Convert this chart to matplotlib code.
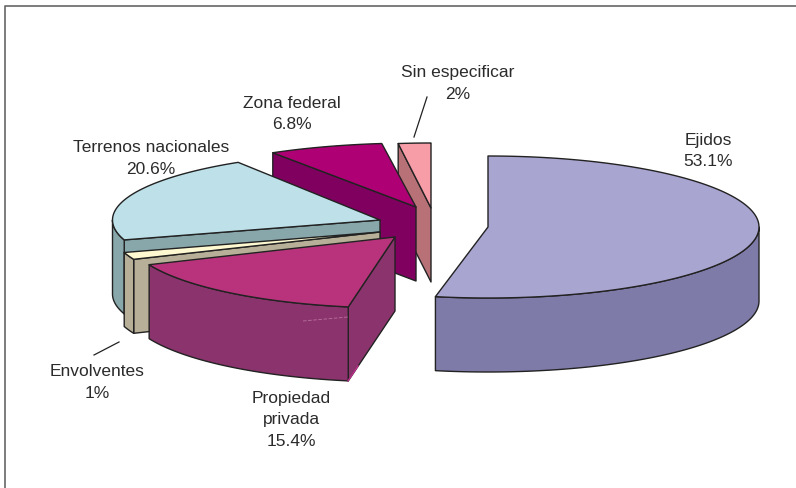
import numpy as np
import matplotlib
matplotlib.use('Agg')
import matplotlib.pyplot as plt
from matplotlib.patches import Polygon

# values in the order the pie runs, clockwise from twelve o'clock
names = ['Ejidos', 'Propiedad\nprivada', 'Envolventes', 'Terrenos nacionales', 'Zona federal', 'Sin especificar']
values = [53.1, 15.4, 1, 20.6, 6.8, 2]

top_colors = ['#A9A5D1', '#B9337C', '#FFF9D2', '#BDE0E9', '#AE0074', '#F79DA8']
wall_colors = ['#7E7BA8', '#8A336C', '#B7AF97', '#88A7AB', '#7F005F', '#B87177']

# layout, in figure pixels: exploded centre of each slice and its ellipse radii
centers = [(488, 227), (395, 237), (380, 232), (380, 220), (416, 207), (431, 208)]
radii_x = [271, 267, 267.5, 267.5, 270, 259]
radii_y = [71, 71, 70, 68, 64, 65]
depth = 74
# the original's perspective moves a few slice edges slightly (degrees)
start_nudge = [0, -3.2, -2.3, 0, 0, 0]
end_nudge = [-2.1, -2.3, 0, 0, 0, 0]

# slice, label centre x, y of first line
label_pos = [(708, 140), (291, 398), (97, 372), (151, 148), (292, 103), (458, 73)]
line_step = 21.5
leaders = [((427, 97), (414, 137)), ((119, 342), (94, 355))]

EDGE = '#222222'


def rim(center, rx, ry, a0, a1):
    # points on the ellipse, angle clockwise from the top
    t = np.radians(np.linspace(a0, a1, 120))
    return np.column_stack([center[0] + rx * np.sin(t), center[1] - ry * np.cos(t)])


def add_poly(ax, pts, color):
    ax.add_patch(Polygon(pts, closed=True, facecolor=color, edgecolor=EDGE, linewidth=1.0, joinstyle='round'))


fig = plt.figure(figsize=(7.96, 4.88), dpi=100)
ax = fig.add_axes([0, 0, 1, 1])
ax.set_xlim(0, 796)
ax.set_ylim(488, 0)
ax.axis('off')

# frame, only top and left show in the crop
ax.plot([4.5, 4.5, 796], [488, 5.5, 5.5], color='#666666', linewidth=1.2)

bounds = np.cumsum([0] + values) / sum(values) * 360

# back slices first, Ejidos does not overlap anything
for i in [0, 5, 4, 3, 2, 1]:
    a0 = bounds[i] + start_nudge[i]
    a1 = bounds[i + 1] + end_nudge[i]
    c = centers[i]
    rx, ry = radii_x[i], radii_y[i]
    down = np.array([0, depth])

    # side wall along the first edge, only when it faces the viewer
    if a0 > 180:
        p = rim(c, rx, ry, a0, a0)[0]
        add_poly(ax, [c, p, p + down, np.array(c) + down], wall_colors[i])

    # outer wall, only the front half of the rim is seen
    lo, hi = max(a0, 90), min(a1, 270)
    if hi > lo:
        arc = rim(c, rx, ry, lo, hi)
        add_poly(ax, np.vstack([arc, (arc + down)[::-1]]), wall_colors[i])

    add_poly(ax, np.vstack([[c], rim(c, rx, ry, a0, a1)]), top_colors[i])

# small print artefacts on Propiedad privada
ax.plot([303, 348], [321, 317], color='#B56A98', linewidth=0.7, linestyle='--')
ax.plot([348, 358], [381, 366], color='#C0308C', linewidth=1.0)

for a, b in leaders:
    ax.plot([a[0], b[0]], [a[1], b[1]], color='#222222', linewidth=0.9)

for name, val, (x, y) in zip(names, values, label_pos):
    for j, line in enumerate((name + '\n' + f'{val}%').split('\n')):
        ax.text(x, y + j * line_step, line, ha='center', va='center', fontsize=12.5,
                color='#2B2B2B', family='Liberation Sans')

fig.savefig('out.png', dpi=100)
